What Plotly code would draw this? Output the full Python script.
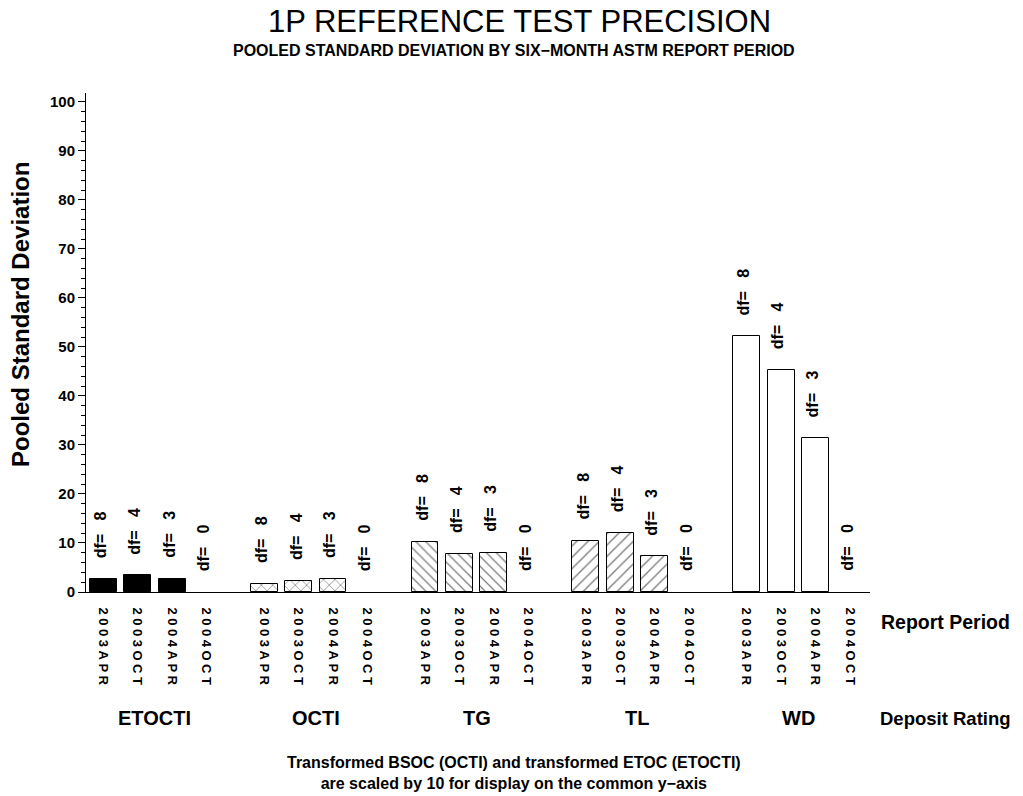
import plotly.graph_objects as go

periods = ["2003APR", "2003OCT", "2004APR", "2004OCT"]
ratings = ["ETOCTI", "OCTI", "TG", "TL", "WD"]
etocti = [2.6, 3.4, 2.7, 0]
octi = [1.6, 2.3, 2.6, 0]
tg = [10.2, 7.8, 7.9, 0]
tl = [10.4, 12.0, 7.3, 0]
wd = [52.2, 45.2, 31.4, 0]
dfs = [8, 4, 3, 0]
y_ticks = [0, 10, 20, 30, 40, 50, 60, 70, 80, 90, 100]

series = [etocti, octi, tg, tl, wd]
patterns = [
    dict(shape=""),
    dict(shape="x", size=8, solidity=0.17, fgcolor="black", bgcolor="white"),
    dict(shape="\\", size=7, solidity=0.18, fgcolor="black", bgcolor="white"),
    dict(shape="/", size=8, solidity=0.17, fgcolor="black", bgcolor="white"),
    dict(shape=""),
]
fills = ["black", "white", "white", "white", "white"]

GAP = 4.67
FONT = "Liberation Sans, Arial, sans-serif"

# reference-pixel -> paper coordinate helpers (plot area 86..870 x 93..592)
def px(p):
    return (p - 86) / 784

def py(p):
    return (592 - p) / 499

fig = go.Figure()
tickvals, ticktext = [], []
annotations = []
for g, (name, vals) in enumerate(zip(ratings, series)):
    xs = [g * GAP + p for p in range(len(periods))]
    tickvals += xs
    ticktext += [f"<span style='letter-spacing:3.5px'>{p}</span>" for p in periods]
    fig.add_trace(go.Bar(
        x=xs, y=vals, width=0.78, name=name,
        marker=dict(color=fills[g],
                    line=dict(color="black", width=[1 if v > 0 else 0 for v in vals]),
                    pattern=patterns[g]),
        showlegend=False,
    ))
    for x, v, d in zip(xs, vals, dfs):
        annotations.append(dict(
            x=x - 0.08, y=v, xref="x", yref="y", text=f"df=\u00a0\u00a0\u00a0{d}",
            textangle=-90, showarrow=False, yanchor="bottom", xanchor="center",
            yshift=19, font=dict(family=FONT, size=16, color="black", weight="bold"),
        ))
    annotations.append(dict(
        x=g * GAP + 1.5, y=py(718), xref="x", yref="paper", text=name,
        showarrow=False, yanchor="middle",
        font=dict(family=FONT, size=20, color="black", weight="bold"),
    ))

annotations += [
    dict(x=px(519), y=py(22), xref="paper", yref="paper",
         text="1P REFERENCE TEST PRECISION", showarrow=False,
         xanchor="center", yanchor="middle",
         font=dict(family=FONT, size=31, color="black")),
    dict(x=px(513.5), y=py(50.5), xref="paper", yref="paper",
         text="POOLED STANDARD DEVIATION BY SIX\u2212MONTH ASTM REPORT PERIOD",
         showarrow=False, xanchor="center", yanchor="middle",
         font=dict(family=FONT, size=16, color="black", weight="bold")),
    dict(x=px(20), y=py(315), xref="paper", yref="paper",
         text="Pooled Standard Deviation", showarrow=False, textangle=-90,
         xanchor="center", yanchor="middle",
         font=dict(family=FONT, size=24, color="black", weight="bold")),
    dict(x=px(879), y=py(622), xref="paper", yref="paper", text="Report Period",
         showarrow=False, xanchor="left", yanchor="middle",
         font=dict(family=FONT, size=19.5, color="black", weight="bold")),
    dict(x=px(878), y=py(718), xref="paper", yref="paper", text="Deposit Rating",
         showarrow=False, xanchor="left", yanchor="middle",
         font=dict(family=FONT, size=18.5, color="black", weight="bold")),
    dict(x=px(513.5), y=py(773), xref="paper", yref="paper", xanchor="center",
         text="Transformed BSOC (OCTI) and transformed ETOC (ETOCTI)<br>are scaled by 10 for display on the common y\u2212axis",
         showarrow=False, yanchor="middle", align="center",
         font=dict(family=FONT, size=16, color="black", weight="bold")),
]

fig.update_layout(
    width=1023, height=796,
    margin=dict(l=86, r=153, t=93, b=204),
    paper_bgcolor="white", plot_bgcolor="white",
    bargap=0,
    xaxis=dict(
        range=[-0.5, 4 * GAP + 3.58], tickvals=tickvals, ticktext=ticktext,
        tickangle=90, showline=True, linecolor="black", linewidth=1,
        showgrid=False, zeroline=False, ticks="", ticklabelstandoff=12,
        tickfont=dict(family=FONT, size=13, color="black", weight="bold"),
    ),
    yaxis=dict(
        range=[0, 101.8], tickvals=y_ticks, showline=True, linecolor="black",
        linewidth=1, showgrid=False, zeroline=False, ticks="outside",
        ticklen=7, tickcolor="black",
        minor=dict(dtick=2, ticks="outside", ticklen=4, tickcolor="black"),
        tickfont=dict(family=FONT, size=15, color="black", weight="bold"),
    ),
    annotations=annotations,
)

fig.write_html(
    "out.html",
    config={"displayModeBar": False},
    post_script="document.body.style.margin='0';document.body.style.overflow='hidden';",
)
